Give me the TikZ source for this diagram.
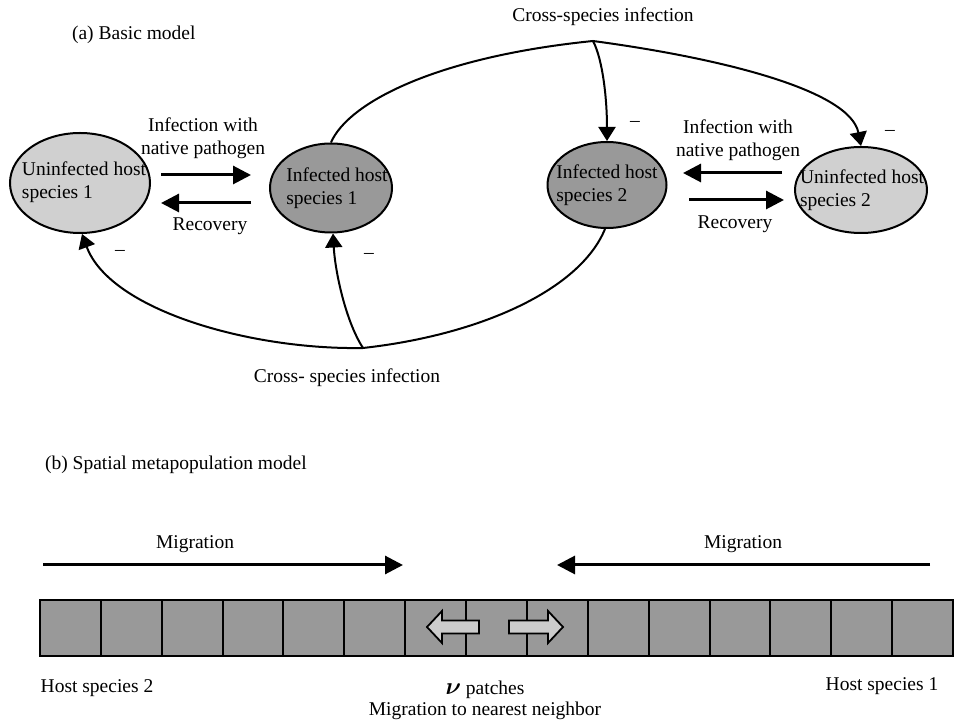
\documentclass[tikz,border=0pt]{standalone}
\usepackage{amsmath}
\usepackage{amssymb}
\usepackage{fontspec}
\setmainfont{Liberation Serif}
\usetikzlibrary{arrows.meta}
\usetikzlibrary{shapes.geometric}
\usetikzlibrary{positioning}
\definecolor{lightgrey}{HTML}{D0D0D0}
\definecolor{darkgrey}{HTML}{999999}
\definecolor{arrowgrey}{HTML}{CCCCCC}
\tikzset{host/.style = {ellipse, draw, line width=1pt, inner sep=0pt},
         hosttext/.style = {align=left, inner sep=0pt},
         flow/.style = {-{Triangle[length=9pt,width=9pt]}, line width=1.5pt},
         cross/.style = {-{Triangle[length=7pt,width=8.5pt]}, line width=1pt},
         patch/.style = {draw, line width=1pt, fill=darkgrey, inner sep=0pt,
                         minimum width=30.4pt, minimum height=28pt},
         shift arrow/.style = {draw, line width=0.9pt, fill=arrowgrey}}

\begin{document}
\begin{tikzpicture}[x=0.5pt, y=-0.5pt, font=\fontsize{9.75}{11.5}\selectfont]
      \useasboundingbox (0, 0) rectangle (959, 721);
      % (a) basic model
      \node [anchor=west] (titlea) at (65, 35) {(a) Basic model};
      \node [host, fill=lightgrey, minimum width=70pt, minimum height=50pt] (U1) at (80, 183) {};
      \node [host, fill=darkgrey, minimum width=61pt, minimum height=44.5pt] (I1) at (331, 188) {};
      \node [host, fill=darkgrey, minimum width=59.5pt, minimum height=43pt] (I2) at (607, 185) {};
      \node [host, fill=lightgrey, minimum width=66pt, minimum height=43pt] (U2) at (861, 190) {};
      \node [hosttext] (U1text) at (84, 182) {Uninfected host\\species 1};
      \node [hosttext] (I1text) at (337, 188) {Infected host\\species 1};
      \node [hosttext] (I2text) at (607, 185) {Infected host\\species 2};
      \node [hosttext] (U2text) at (862, 190) {Uninfected host\\species 2};
      \draw [flow] ([shift={(10, -8)}]U1.east) -- ([shift={(-18, -13)}]I1.west);
      \draw [flow] ([shift={(-18, 15)}]I1.west) -- ([shift={(10, 20)}]U1.east);
      \draw [flow] ([shift={(-12, -17)}]U2.west) -- ([shift={(15.5, -12)}]I2.east);
      \draw [flow] ([shift={(21.5, 15)}]I2.east) -- ([shift={(-10, 10)}]U2.west);
      \node [align=center] (infl) at (203, 138) {Infection with\\native pathogen};
      \node (recl) at (210, 226) {Recovery};
      \node [align=center] (infr) at (738, 140) {Infection with\\native pathogen};
      \node (recr) at (735, 224) {Recovery};
      % cross-species infection
      \coordinate (topapex) at (593, 41);
      \coordinate (botapex) at (363, 348);
      \draw [cross] (I1.north) .. controls (348, 103) and (435, 57) .. (topapex)
                    .. controls (720, 58) and (850, 90) .. (U2.north);
      \draw [cross] (topapex) .. controls (603, 60) and (607, 100) .. (I2.north);
      \draw [cross] ([xshift=-1pt]I2.south) .. controls (580, 290) and (480, 335) .. (botapex)
                    .. controls (250, 350) and (110, 310) .. ([xshift=1pt]U1.south);
      \draw [cross] (botapex) .. controls (345, 320) and (335, 270) .. ([xshift=1pt]I1.south);
      \node (crosstop) at (603, 17) {Cross-species infection};
      \node (crossbot) at (347, 378) {Cross- species infection};
      \node (minus1) at (120, 253) {--};
      \node (minus2) at (369, 256) {--};
      \node (minus3) at (635, 124) {--};
      \node (minus4) at (890, 133) {--};
      % (b) spatial metapopulation model
      \node [anchor=west] (titleb) at (38, 465) {(b) Spatial metapopulation model};
      \coordinate (migla) at (43, 565);
      \coordinate (miglb) at (403, 565);
      \coordinate (migra) at (930, 565);
      \coordinate (migrb) at (557, 565);
      \draw [flow] (migla) -- (miglb);
      \draw [flow] (migra) -- (migrb);
      \node (migl) at (195, 544) {Migration};
      \node (migr) at (743, 544) {Migration};
      \foreach \i in {0,...,14}
        \node [patch] (p\i) at ({70.4 + 60.87*\i}, 628) {};
      \draw [shift arrow] (427, 627) -- (442, 611) -- (442, 620.5) -- (479, 620.5)
                          -- (479, 633.5) -- (442, 633.5) -- (442, 643) -- cycle;
      \draw [shift arrow] (563, 627) -- (548, 611) -- (548, 620.5) -- (509, 620.5)
                          -- (509, 633.5) -- (548, 633.5) -- (548, 643) -- cycle;
      \node (host2) at (97, 688) {Host species 2};
      \node (host1) at (882, 686) {Host species 1};
      \node (patches) at (485, 690) {{\large$\boldsymbol{\nu}$} patches};
      \node (nearest) at (485, 711) {Migration to nearest neighbor};
    \end{tikzpicture}
\end{document}
